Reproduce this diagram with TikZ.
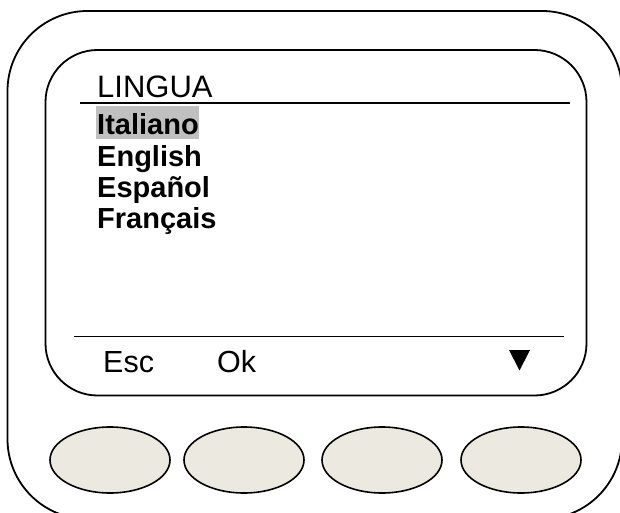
\documentclass[tikz,border=0pt]{standalone}
\usepackage{fontspec}
\setmainfont{Liberation Sans}
\usetikzlibrary{shapes.geometric}
\definecolor{btnfill}{RGB}{236,234,224}
\definecolor{hilite}{RGB}{192,192,192}
\tikzset{
  frame/.style={draw=black, line width=1.8pt},
  rule/.style={draw=black, line width=1.8pt},
  title/.style={anchor=base west, inner sep=0pt, font=\fontsize{31}{36}\selectfont},
  item/.style={anchor=base west, inner sep=0pt, font=\fontsize{29}{34}\selectfont\bfseries},
  soft/.style={anchor=base west, inner sep=0pt, font=\fontsize{30.5}{36}\selectfont},
  btn/.style={draw=black, line width=1.6pt, fill=btnfill, ellipse, minimum width=120pt, minimum height=66pt, inner sep=0pt},
}
\begin{document}
\begin{tikzpicture}[x=1pt,y=-1pt]
\useasboundingbox (0,0) rectangle (620,513);
\clip (0,0) rectangle (620,513);
% outer casing
\draw[frame, rounded corners=80pt] (7.5,11) rectangle (622,519);
% screen
\draw[frame, rounded corners=52pt] (45.5,50) rectangle (586.5,395.5);
% title and rules
\node[title] (ttl) at (97,98) {LINGUA};
\coordinate (tl) at (80,103);
\coordinate (tr) at (570,103);
\draw[rule] (tl) -- (tr);
% highlighted selection
\fill[hilite] (96,106) rectangle (199,139.5);
\node[item] (it) at (97,135) {Italiano};
\node[item] (en) at (97,166) {English};
\node[item] (es) at (97,197) {Español};
\node[item] (fr) at (97,228) {Français};
% bottom rule and soft keys
\coordinate (bl) at (74,336.5);
\coordinate (br) at (564,336.5);
\draw[rule] (bl) -- (br);
\node[soft] (esc) at (103,372) {Esc};
\node[soft] (ok) at (217,372) {Ok};
\fill[black] (509,350) -- (530,350) -- (519.5,370.5) -- cycle;
% buttons
\node[btn] (b1) at (110,460) {};
\node[btn] (b2) at (244,460) {};
\node[btn] (b3) at (382,460) {};
\node[btn] (b4) at (521,460) {};
\end{tikzpicture}
\end{document}
